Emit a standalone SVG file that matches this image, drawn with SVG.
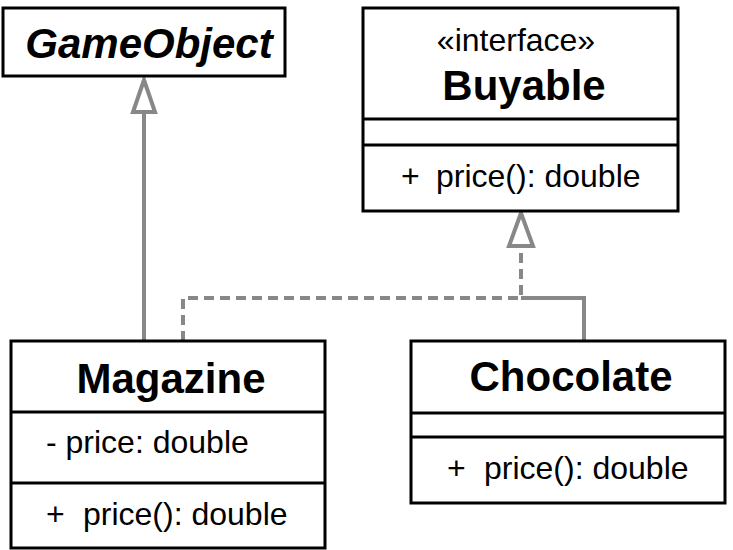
<svg xmlns="http://www.w3.org/2000/svg" width="733" height="550" viewBox="0 0 733 550">
<style>
.box{fill:#fff;stroke:#000;stroke-width:3}
.div{stroke:#000;stroke-width:3}
.t{font-family:"Liberation Sans",Arial,sans-serif;fill:#000}
.name{font-size:42px;font-weight:bold;text-anchor:middle}
.mem{font-size:32px}
.st{font-size:32px;text-anchor:middle}
.con{fill:none;stroke:#888;stroke-width:4}
.dash{stroke-dasharray:10,6}
.head{fill:#fff;stroke:#888;stroke-width:4;stroke-linejoin:miter}
</style>
<g id="connectors">
<path class="con" d="M144,341 V112"/>
<polygon class="head" points="144,80 133,112 155,112"/>
<path class="con dash" d="M183,341 V298 H521 V246"/>
<path class="con" d="M584,341 V298 H521"/>
<polygon class="head" points="521,213 509,246 533,246"/>
</g>
<g id="GameObject">
<rect class="box" x="3" y="8" width="282" height="68"/>
<text class="t name" x="149" y="58" font-style="italic">GameObject</text>
</g>
<g id="Buyable">
<rect class="box" x="363" y="8" width="315" height="203"/>
<line class="div" x1="363" y1="119" x2="678" y2="119"/>
<line class="div" x1="363" y1="145" x2="678" y2="145"/>
<text class="t st" x="516" y="51">«interface»</text>
<text class="t name" x="524" y="100">Buyable</text>
<text class="t mem" x="401" y="187">+<tspan x="436">price(): double</tspan></text>
</g>
<g id="Magazine">
<rect class="box" x="11" y="341" width="314" height="207"/>
<line class="div" x1="11" y1="412" x2="325" y2="412"/>
<line class="div" x1="11" y1="483" x2="325" y2="483"/>
<text class="t name" x="171" y="393">Magazine</text>
<text class="t mem" x="46" y="453">- price: double</text>
<text class="t mem" x="46" y="525">+<tspan x="83">price(): double</tspan></text>
</g>
<g id="Chocolate">
<rect class="box" x="411" y="341" width="314" height="162"/>
<line class="div" x1="411" y1="413" x2="725" y2="413"/>
<line class="div" x1="411" y1="437" x2="725" y2="437"/>
<text class="t name" x="571" y="391">Chocolate</text>
<text class="t mem" x="447" y="479">+<tspan x="484">price(): double</tspan></text>
</g>
</svg>
